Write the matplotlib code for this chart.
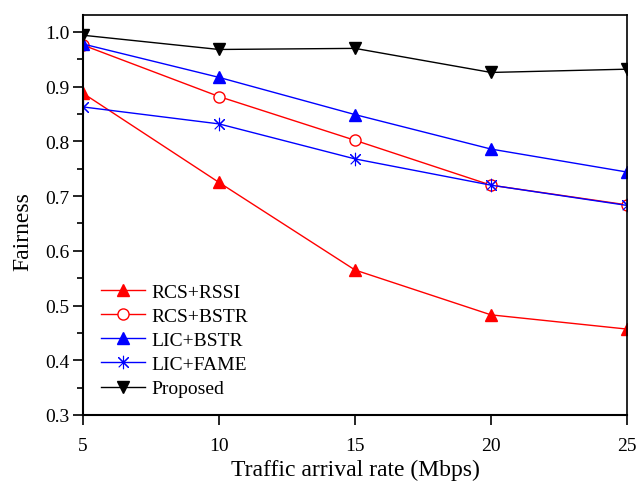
import matplotlib
matplotlib.use("Agg")
import matplotlib.pyplot as plt
from matplotlib.ticker import MultipleLocator

plt.rcParams["font.family"] = ["Liberation Serif", "DejaVu Serif"]

rates = [5, 10, 15, 20, 25]
rcs_rssi = [0.888, 0.725, 0.565, 0.483, 0.457]
rcs_bstr = [0.976, 0.882, 0.802, 0.720, 0.684]
lic_bstr = [0.978, 0.917, 0.849, 0.786, 0.744]
lic_fame = [0.863, 0.832, 0.768, 0.720, 0.683]
proposed = [0.994, 0.968, 0.970, 0.926, 0.932]

fig = plt.figure(figsize=(6.38, 4.85), dpi=100)
ax = fig.add_axes([83 / 638, 1 - 416 / 485, 544 / 638, 400 / 485])

# asterisk marker: x with a vertical bar
star = [(-1, -1), (1, 1), (0, 0), (-1, 1), (1, -1), (0, 0), (0, 1.3), (0, -1.3), (0, 0)]

ax.plot(rates, rcs_rssi, "-^", color="red", markersize=8, linewidth=1, label="RCS+RSSI")
ax.plot(rates, rcs_bstr, "-o", color="red", markerfacecolor="white", markersize=8,
        linewidth=1, label="RCS+BSTR")
ax.plot(rates, lic_bstr, "-^", color="blue", markersize=8, linewidth=1, label="LIC+BSTR")
ax.plot(rates, lic_fame, "-", marker=star, color="blue", markersize=9, linewidth=1,
        markeredgewidth=0.8, markerfacecolor="none", label="LIC+FAME")
ax.plot(rates, proposed, "-v", color="black", markersize=8, linewidth=1, label="Proposed")

ax.set_xlim(5, 25)
ax.set_ylim(0.3, 1.031)
ax.xaxis.set_major_locator(MultipleLocator(5))
ax.yaxis.set_major_locator(MultipleLocator(0.1))
ax.yaxis.set_minor_locator(MultipleLocator(0.05))
ax.tick_params(axis="both", which="major", direction="out", length=7, width=1.2,
               labelsize=14, top=False, right=False)
ax.tick_params(axis="y", which="minor", direction="out", length=4, width=1.2)
ax.tick_params(axis="x", pad=9)
ax.tick_params(axis="y", pad=3)
for s in ax.spines.values():
    s.set_linewidth(1.2)
ax.spines["left"].set_linewidth(1.5)
ax.spines["bottom"].set_linewidth(1.5)

ax.set_xlabel("Traffic arrival rate (Mbps)", fontsize=17, labelpad=3)
ax.set_ylabel("Fairness", fontsize=17)
ax.yaxis.set_label_coords(-0.092, 0.46)

ax.legend(loc="lower left", bbox_to_anchor=(0.0, 0.0), frameon=False, fontsize=14,
          handlelength=2.3, labelspacing=0.34, handletextpad=0.3)

fig.savefig("out.png", dpi=100)
